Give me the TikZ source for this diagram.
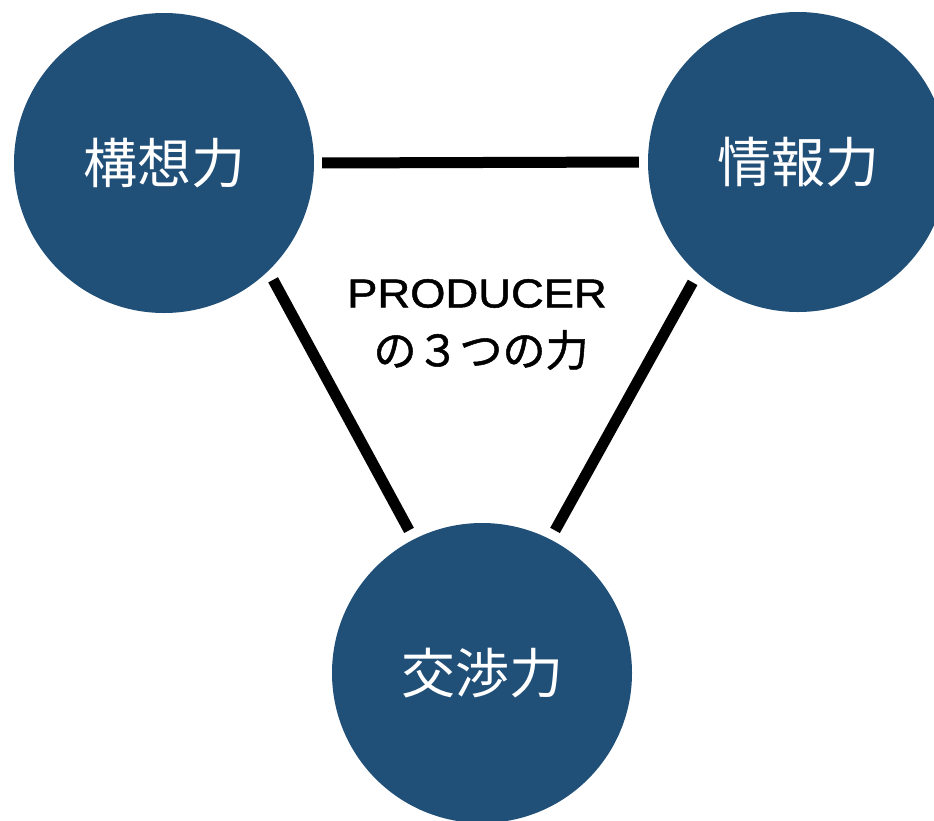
\documentclass[tikz,border=0pt]{standalone}
\usepackage{fontspec}
\setmainfont{Liberation Sans}
\newfontfamily\jpfont{Noto Sans CJK JP}
\newfontfamily\jpbold[FakeBold=1.2]{Noto Sans CJK JP}
\newfontfamily\latinwide[FakeStretch=1.12,FakeBold=1.2]{Liberation Sans}
\definecolor{navy}{RGB}{32,79,120}
\tikzset{
  bubble/.style={circle, fill=navy, draw=none, minimum size=300pt, inner sep=0pt,
    text=white, font=\jpfont\fontsize{54}{60}\selectfont},
  link/.style={line width=11pt, line cap=butt, draw=black, shorten <=10pt, shorten >=10pt}
}
\begin{document}
\begin{tikzpicture}[x=1pt,y=-1pt]
\useasboundingbox (0,0) rectangle (934,820);
\clip (0,0) rectangle (934,820);
\node[bubble] (kousou) at (164,163) {\raisebox{-4pt}{構想力}};
\node[bubble] (jouhou) at (798,162) {\raisebox{-4pt}{情報力}};
\node[bubble] (koushou) at (482,673) {\raisebox{-4pt}{交渉力}};
\node[font=\latinwide\fontsize{40.5}{44}\selectfont, inner sep=0pt] (prod) at (477,293.5) {PRODUCER};
\node[font=\jpbold\fontsize{43}{48}\selectfont, inner sep=0pt] (mitsu) at (481,350) {の３つの力};
\draw[link, shorten <=8pt, shorten >=9pt] (kousou.east) -- (jouhou.west);
\draw[link] (kousou.-46.8) -- (koushou.117.4);
\draw[link] (jouhou.-132.5) -- (koushou.63.4);
\end{tikzpicture}
\end{document}
